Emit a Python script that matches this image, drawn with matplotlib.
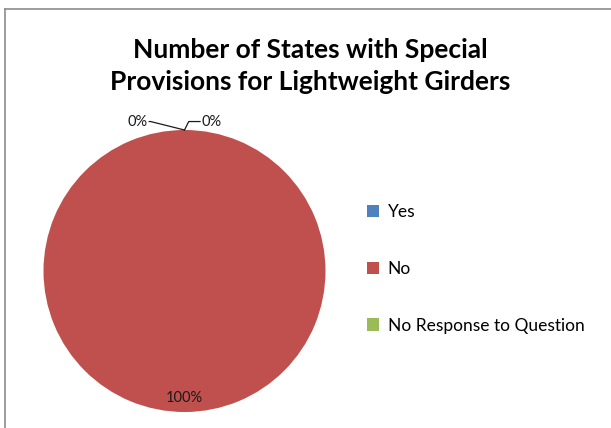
import numpy as np
import matplotlib.pyplot as plt

# Survey responses (percent of states)
categories = ["Yes", "No", "No Response to Question"]
shares = [0, 100, 0]
colors = ["#4F81BD", "#C0504D", "#9BBB59"]
title = "Number of States with Special\nProvisions for Lightweight Girders"

plt.rcParams['font.family'] = ['Lato', 'DejaVu Sans']

W, H = 611, 428
fig = plt.figure(figsize=(W / 100, H / 100), dpi=100)

# chart frame: only the top and left edges fall inside the image
frame = fig.add_axes([4.5 / W, 0, 1 - 4.5 / W, 1 - 8.5 / H])
frame.set_xticks([])
frame.set_yticks([])
frame.patch.set_visible(False)
for side in ("right", "bottom"):
    frame.spines[side].set_visible(False)
for side in ("top", "left"):
    frame.spines[side].set_color("#8c8c8c")
    frame.spines[side].set_linewidth(1.2)

cx, cy, r = 184.5, 271, 141
ax = fig.add_axes([(cx - r) / W, 1 - (cy + r) / H, 2 * r / W, 2 * r / H])

wedges, _ = ax.pie(shares, colors=colors, startangle=90, counterclock=False,
                   radius=1, wedgeprops=dict(linewidth=0))
ax.set_xlim(-1, 1)
ax.set_ylim(-1, 1)
ax.set_aspect("equal")
ax.axis("off")

# percentage labels: inside for the big slice, outside with leaders for empty ones
total = sum(shares)
outside = []
for w, v in zip(wedges, shares):
    mid = np.deg2rad((w.theta1 + w.theta2) / 2)
    pct = f"{100 * v / total:.0f}%"
    if v > 0:
        ax.text(0.9 * np.cos(mid), 0.9 * np.sin(mid), pct, ha="center",
                va="center", fontsize=10.5, color="#1a1a1a")
    else:
        outside.append((mid, pct))

offsets = [(-0.25, 0.06, "right"), (0.11, 0.06, "left")]
for (mid, pct), (dx, dy, ha) in zip(outside, offsets):
    px, py = np.cos(mid), np.sin(mid)
    tx, ty = px + dx, py + dy
    if ha == "right":
        pts = [(px, py), (tx + 0.01, ty), (tx, ty)]
    else:
        pts = [(px, py), (px + 0.03, ty), (tx, ty)]
    xs, ys = zip(*pts)
    ax.plot(xs, ys, color="#1a1a1a", linewidth=0.9, clip_on=False)
    ax.text(tx + (-0.01 if ha == "right" else 0.01), ty, pct, ha=ha,
            va="center", fontsize=10.5, color="#1a1a1a", clip_on=False)

fig.text(310 / W, 1 - 66 / H, title, ha="center", va="center",
         fontsize=19, fontweight="bold", linespacing=1.45)

fig.legend(wedges, categories, loc="upper left",
           bbox_to_anchor=(360 / W, 1 - 197 / H), frameon=False,
           fontsize=12.5, handlelength=0.7, handleheight=0.7,
           handletextpad=0.5, labelspacing=2.35, borderaxespad=0)

fig.savefig("out.png", dpi=100)
